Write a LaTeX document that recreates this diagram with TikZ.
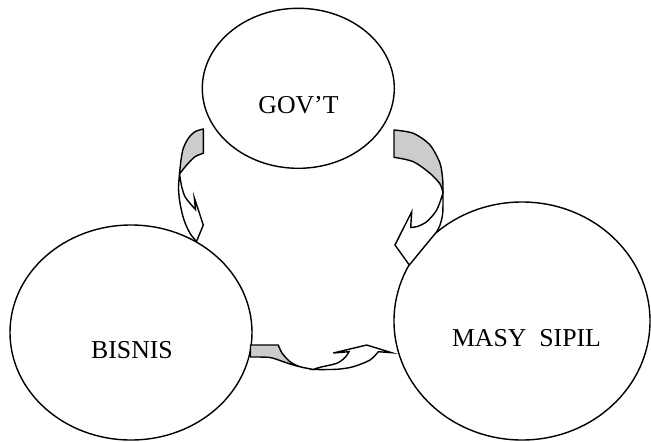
\documentclass[tikz,border=0pt]{standalone}
\usepackage{fontspec}
\setmainfont{Liberation Serif}
\usepackage{tikz}
\usetikzlibrary{shapes.geometric}

\begin{document}
\begin{tikzpicture}[
  x=0.03cm, y=-0.03cm,
  blob/.style={draw, ellipse, fill=white, line width=1.2pt, inner sep=0pt},
  lbl/.style={anchor=base, inner sep=0pt, font=\fontsize{22}{26}\selectfont},
  back/.style={draw, fill=gray!40, line width=1.2pt, line join=round},
  front/.style={draw, fill=white, line width=1.2pt, line join=miter}
]
\useasboundingbox (0,0) rectangle (651,441);

% --- Elipsy (trzy sektory) ---
\node[blob, minimum width=5.76cm, minimum height=4.8cm] (gov) at (298.3,88.3) {};
\node[blob, minimum width=7.26cm, minimum height=6.45cm] (bis) at (131,332.5) {};
\node[blob, minimum width=7.68cm, minimum height=7.14cm] (mas) at (522,321) {};

% --- Podpisy ---
\node[lbl] (govtext) at (298.5,113) {GOV’T};
\node[lbl] (bistext) at (132,358) {BISNIS};
\node[lbl] (mastext) at (526.5,346) {MASY\ \ SIPIL};

% --- Strzałka 1: GOV'T -> BISNIS ---
\draw[back] (203.3,129) -- (203.3,153.3)
  -- plot[smooth] coordinates {(203.3,153.3) (195,156.7) (186.7,165) (179.5,174)}
  -- plot[smooth] coordinates {(179.5,174) (181,160) (183.3,148.3) (188.3,138.3) (195,131.7) (203.3,129)}
  -- cycle;
\draw[front] (179.5,174)
  -- plot[smooth] coordinates {(179.5,174) (178.5,188) (180,203.3) (184,220) (190,233.3) (196.5,241.5)}
  -- (203.3,225) -- (194.3,197.7) -- (195.5,209.5)
  -- plot[smooth] coordinates {(195.5,209.5) (190,203.3) (185,196.7) (181.7,186.7) (179.5,174)}
  -- cycle;

% --- Strzałka 2: GOV'T -> MASY SIPIL ---
\draw[back] (394,130) -- (394,157.3)
  -- plot[smooth] coordinates {(394,157.3) (413.3,161.7) (430,173.3) (440,184) (443,193)}
  -- plot[smooth] coordinates {(443,193) (442.7,180) (440,163.3) (430,145) (413.3,133.3) (394,130)}
  -- cycle;
\draw[front] (443,193)
  -- plot[smooth] coordinates {(443,193) (442.7,213.3) (440,225) (436.7,231.7)}
  -- (409.3,265) -- (395,245) -- (411.7,211.7) -- (410.7,227.3)
  -- plot[smooth] coordinates {(410.7,227.3) (416.7,226.7) (426.7,221.7) (436.7,210) (443,193)}
  -- cycle;

% --- Strzałka 3: BISNIS -> MASY SIPIL ---
\draw[back] (250.5,345) -- (278.3,345)
  -- plot[smooth] coordinates {(278.3,345) (282,353) (290,361.7) (300,366.7) (313.3,369.5)}
  -- plot[smooth] coordinates {(313.3,369.5) (296.7,366) (283.3,361.7) (270,357.5) (250.5,357)}
  -- cycle;
\draw[front] (313.3,369.5)
  -- plot[smooth] coordinates {(313.3,369.5) (320,367.3) (336.7,363.3) (345,357.5) (349,351.7)}
  -- (333.3,353) -- (366.7,345) -- (391.7,352.7) -- (378.3,351.7)
  -- plot[smooth] coordinates {(378.3,351.7) (370,360) (353.3,366.7) (336.7,369.3) (313.3,369.5)}
  -- cycle;

\end{tikzpicture}
\end{document}
